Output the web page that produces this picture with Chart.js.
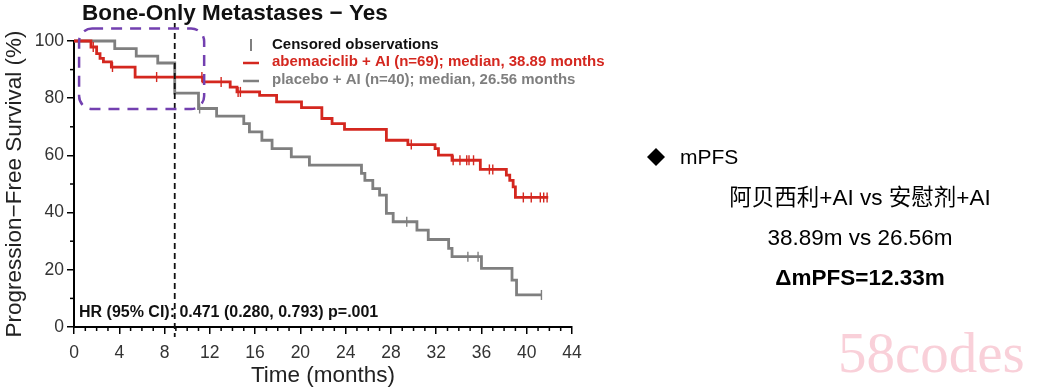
<!DOCTYPE html>
<html>
<head>
<meta charset="utf-8">
<script src="https://cdn.jsdelivr.net/npm/chart.js@4.4.1/dist/chart.umd.min.js"></script>
<style>
  html, body { margin: 0; padding: 0; background: #fff; }
  #km { display: block; }
</style>
</head>
<body>
<canvas id="km" width="1039" height="389"></canvas>
<script>
// KM curve steps (months, % progression-free)
var abemaTime = [0, 1.5, 2.0, 2.3, 2.6, 3.3, 5.4, 11.4, 13.8, 14.4, 16.4, 17.9, 20.1, 21.9, 22.8, 23.9, 27.6, 29.5, 31.9, 32.2, 33.4, 35.9, 38.2, 38.5, 38.8, 39.0, 41.9];
var abemaSurv = [100, 97.9, 95.6, 93.9, 92.7, 90.9, 87.4, 85.7, 83.9, 82.2, 81.0, 78.7, 76.7, 72.9, 71.1, 69.1, 65.3, 63.8, 62.4, 60.1, 58.3, 55.1, 53.1, 51.3, 49.0, 45.3, 45.3];
var abemaCensor = [1.7, 3.4, 7.3, 11.3, 13.0, 14.5, 14.7, 29.8, 33.5, 34.1, 34.7, 34.9, 35.3, 36.7, 37.0, 39.7, 40.4, 41.2, 41.5, 41.8];

var placeboTime = [0, 3.6, 5.5, 7.4, 8.9, 11.0, 12.6, 15.0, 15.5, 16.6, 17.5, 19.2, 20.8, 25.4, 25.7, 26.4, 27.0, 27.6, 28.2, 30.3, 31.3, 33.1, 33.4, 36.0, 38.7, 39.1, 41.3];
var placeboSurv = [100, 97.3, 94.7, 92.3, 81.8, 76.4, 73.7, 71.1, 68.2, 65.3, 62.4, 59.5, 56.6, 53.7, 51.3, 48.4, 46.1, 39.7, 36.8, 33.9, 30.6, 27.5, 24.6, 20.5, 16.4, 11.2, 11.2];
var placeboCensor = [11.1, 29.4, 34.8, 35.7, 41.3];

var xTicks = [0, 4, 8, 12, 16, 20, 24, 28, 32, 36, 40, 44];
var yTicks = [0, 20, 40, 60, 80, 100];

var medianLine = 8.9; // dashed marker
var zoomBox = { x0: 0.45, x1: 11.5, y0: 76.2, y1: 104.4 };

var RED = '#d4271f';
var GRAY = '#7f7f7f';
var FONT = '"Liberation Sans", Arial, sans-serif';

function toPoints(t, s) {
    return t.map(function (v, i) { return { x: v, y: s[i] }; });
}
// survival value at a censor time = level of the step function
function levelAt(t, s, x) {
    var v = s[0];
    for (var i = 0; i < t.length; i++) { if (t[i] <= x) v = s[i]; }
    return v;
}
function censorPoints(t, s, c) {
    return c.map(function (x) { return { x: x, y: levelAt(t, s, x) }; });
}

var extras = {
    id: 'extras',
    afterDraw: function (chart) {
        var ctx = chart.ctx;
        var xs = chart.scales.x, ys = chart.scales.y;
        ctx.save();

        // minor ticks
        ctx.strokeStyle = '#000';
        ctx.lineWidth = 1.5;
        var yb = ys.getPixelForValue(0);
        for (var m = 1; m < 44; m++) {
            if (m % 4 === 0) continue;
            var px = xs.getPixelForValue(m);
            ctx.beginPath(); ctx.moveTo(px, yb); ctx.lineTo(px, yb + 4); ctx.stroke();
        }
        var xl = xs.left;
        for (var v = 10; v < 100; v += 20) {
            var py = ys.getPixelForValue(v);
            ctx.beginPath(); ctx.moveTo(xl, py); ctx.lineTo(xl - 4, py); ctx.stroke();
        }

        // dashed vertical marker
        var mx = xs.getPixelForValue(medianLine);
        ctx.setLineDash([6, 4]);
        ctx.lineWidth = 1.8;
        ctx.strokeStyle = '#111';
        ctx.beginPath(); ctx.moveTo(mx, 23); ctx.lineTo(mx, 337); ctx.stroke();

        // purple dashed rounded box
        var bx0 = xs.getPixelForValue(zoomBox.x0), bx1 = xs.getPixelForValue(zoomBox.x1);
        var by0 = ys.getPixelForValue(zoomBox.y1), by1 = ys.getPixelForValue(zoomBox.y0);
        ctx.setLineDash([11, 8]);
        ctx.lineWidth = 2.5;
        ctx.strokeStyle = '#7340b0';
        ctx.beginPath();
        ctx.roundRect(bx0, by0, bx1 - bx0, by1 - by0, 13);
        ctx.stroke();
        ctx.setLineDash([]);

        // title
        ctx.fillStyle = '#111';
        ctx.textBaseline = 'middle';
        ctx.textAlign = 'left';
        ctx.font = 'bold 22.5px ' + FONT;
        ctx.fillText('Bone-Only Metastases \u2212 Yes', 82, 14);

        // legend
        ctx.font = 'bold 15px ' + FONT;
        ctx.strokeStyle = '#555';
        ctx.lineWidth = 1.5;
        ctx.beginPath(); ctx.moveTo(251, 39); ctx.lineTo(251, 51); ctx.stroke();
        ctx.fillStyle = '#111';
        ctx.fillText('Censored observations', 272, 45);
        ctx.lineWidth = 2.5;
        ctx.strokeStyle = RED;
        ctx.beginPath(); ctx.moveTo(243, 63); ctx.lineTo(259, 63); ctx.stroke();
        ctx.fillStyle = RED;
        ctx.fillText('abemaciclib + AI (n=69); median, 38.89 months', 272, 62);
        ctx.strokeStyle = GRAY;
        ctx.beginPath(); ctx.moveTo(243, 81); ctx.lineTo(259, 81); ctx.stroke();
        ctx.fillStyle = GRAY;
        ctx.fillText('placebo + AI (n=40); median, 26.56 months', 272, 80);

        // hazard ratio
        ctx.fillStyle = '#111';
        ctx.font = 'bold 16px ' + FONT;
        ctx.fillText('HR (95% CI): 0.471 (0.280, 0.793) p=.001', 79, 313);

        // right-hand summary
        ctx.fillStyle = '#000';
        ctx.beginPath();
        ctx.moveTo(656, 148); ctx.lineTo(665, 157); ctx.lineTo(656, 166); ctx.lineTo(647, 157);
        ctx.closePath(); ctx.fill();
        ctx.font = '21px ' + FONT;
        ctx.fillText('mPFS', 680, 158);
        ctx.textAlign = 'center';
        ctx.font = '22.5px "Liberation Sans", "Noto Sans CJK SC", sans-serif';
        ctx.fillText('\u963f\u8d1d\u897f\u5229+AI vs \u5b89\u6170\u5242+AI', 860, 199);
        ctx.fillText('38.89m vs 26.56m', 860, 239);
        ctx.font = 'bold 22.5px ' + FONT;
        ctx.fillText('\u0394mPFS=12.33m', 860, 279);

        // watermark
        ctx.font = '57px "Liberation Serif", serif';
        ctx.fillStyle = 'rgba(244, 170, 185, 0.55)';
        ctx.textAlign = 'left';
        ctx.fillText('58codes', 838, 357);
        ctx.restore();
    }
};

var ctx = document.getElementById('km').getContext('2d');
var kmChart = new Chart(ctx, {
    type: 'line',
    data: {
        datasets: [{
            label: 'abemaciclib + AI',
            data: toPoints(abemaTime, abemaSurv),
            stepped: true,
            borderColor: RED,
            borderWidth: 2.8,
            pointRadius: 0,
            fill: false,
            clip: 6
        }, {
            label: 'abemaciclib censored',
            data: censorPoints(abemaTime, abemaSurv, abemaCensor),
            showLine: false,
            pointStyle: 'line',
            rotation: 90,
            pointRadius: 5,
            borderColor: RED,
            borderWidth: 1.4,
            clip: 6
        }, {
            label: 'placebo + AI',
            data: toPoints(placeboTime, placeboSurv),
            stepped: true,
            borderColor: GRAY,
            borderWidth: 2.8,
            pointRadius: 0,
            fill: false,
            clip: 6
        }, {
            label: 'placebo censored',
            data: censorPoints(placeboTime, placeboSurv, placeboCensor),
            showLine: false,
            pointStyle: 'line',
            rotation: 90,
            pointRadius: 5,
            borderColor: GRAY,
            borderWidth: 1.4,
            clip: 6
        }]
    },
    options: {
        responsive: false,
        animation: false,
        events: [],
        layout: { padding: { left: 0, top: 41, right: 467, bottom: 0 } },
        plugins: {
            legend: { display: false },
            tooltip: { enabled: false }
        },
        scales: {
            x: {
                type: 'linear',
                min: 0,
                max: 44,
                afterFit: function (s) { s.height = 62; },
                afterBuildTicks: function (s) { s.ticks = xTicks.map(function (v) { return { value: v }; }); },
                ticks: { color: '#333', font: { size: 17.5, family: FONT }, padding: 9, maxRotation: 0 },
                grid: { drawOnChartArea: false, tickLength: 7, color: '#000', lineWidth: 1.5 },
                border: { color: '#000', width: 2 },
                title: {
                    display: true,
                    text: 'Time (months)',
                    color: '#222',
                    font: { size: 22.5, family: FONT },
                    padding: { top: 0, bottom: 0 }
                }
            },
            y: {
                min: 0,
                max: 100,
                afterFit: function (s) { s.width = 74; },
                afterBuildTicks: function (s) { s.ticks = yTicks.map(function (v) { return { value: v }; }); },
                ticks: { color: '#333', font: { size: 17.5, family: FONT }, padding: 3 },
                grid: { drawOnChartArea: false, tickLength: 7, color: '#000', lineWidth: 1.5 },
                border: { color: '#000', width: 2 },
                title: {
                    display: true,
                    text: 'Progression\u2212Free Survival (%)',
                    color: '#222',
                    font: { size: 22.5, family: FONT },
                    padding: { top: 1, bottom: 0 }
                }
            }
        }
    },
    plugins: [extras]
});
</script>
</body>
</html>
